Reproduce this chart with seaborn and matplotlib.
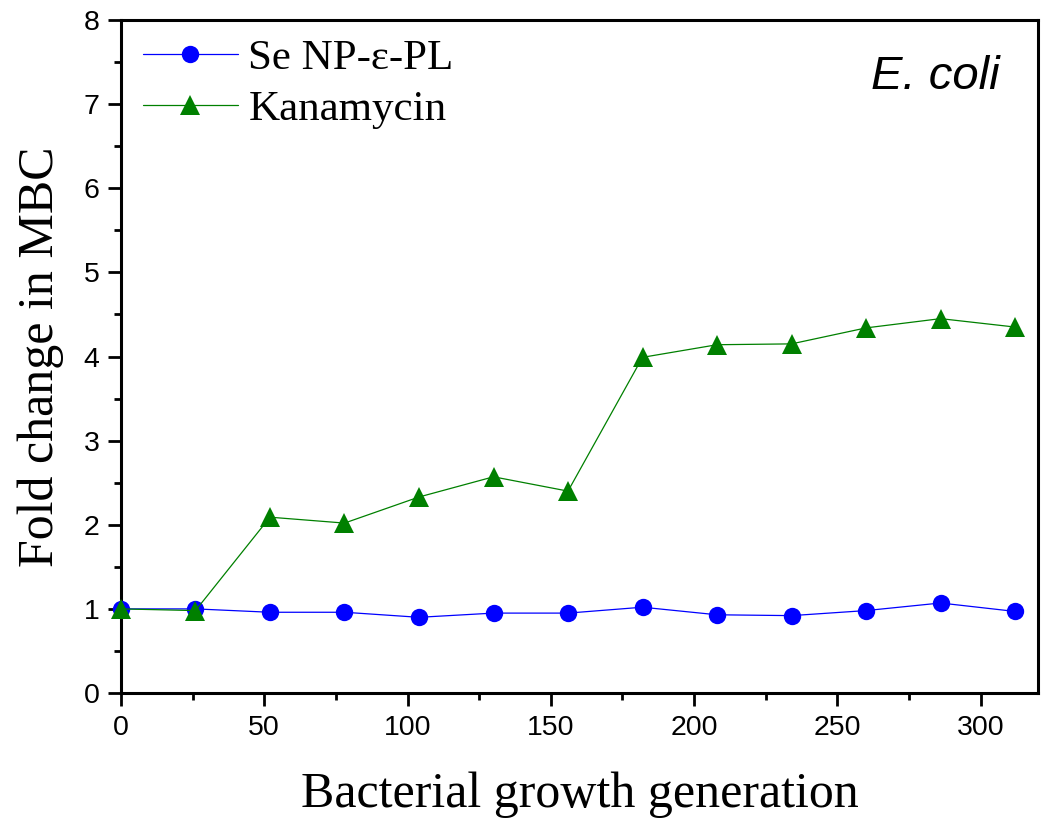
import matplotlib
matplotlib.use("Agg")
import matplotlib.pyplot as plt
from matplotlib.ticker import MultipleLocator
import seaborn as sns
import pandas as pd

# dados
generation = [0, 26, 52, 78, 104, 130, 156, 182, 208, 234, 260, 286, 312]
se_np_pl = [1.00, 1.00, 0.96, 0.96, 0.90, 0.95, 0.95, 1.02, 0.93, 0.92, 0.98, 1.07, 0.97]
kanamycin = [1.00, 0.98, 2.09, 2.02, 2.33, 2.57, 2.40, 3.99, 4.14, 4.15, 4.34, 4.45, 4.35]
series_names = ["Se NP-ε-PL", "Kanamycin"]

df = pd.DataFrame({
    "Generation": generation * 2,
    "Fold": se_np_pl + kanamycin,
    "Series": [series_names[0]] * len(generation) + [series_names[1]] * len(generation),
})

sns.set_style("ticks", {"axes.edgecolor": "black", "xtick.color": "black",
                        "ytick.color": "black", "text.color": "black",
                        "axes.labelcolor": "black"})
plt.rcParams["font.family"] = ["Liberation Sans", "DejaVu Sans"]

fig = plt.figure(figsize=(10.51, 8.22), dpi=100)
ax = fig.add_axes([0.1151, 0.1569, 0.8725, 0.8188])

sns.lineplot(data=df[df["Series"] == series_names[0]], x="Generation", y="Fold",
             color="#0000ff", marker="o", markersize=12.5, markeredgewidth=0,
             linewidth=0.9, label=series_names[0], ax=ax, clip_on=False, zorder=3)
sns.lineplot(data=df[df["Series"] == series_names[1]], x="Generation", y="Fold",
             color="#008000", marker="^", markersize=14.5, markeredgewidth=0,
             linewidth=0.9, label=series_names[1], ax=ax, clip_on=False, zorder=4)

ax.set_xlim(0, 320)
ax.set_ylim(0, 8)
ax.xaxis.set_major_locator(MultipleLocator(50))
ax.xaxis.set_minor_locator(MultipleLocator(25))
ax.yaxis.set_major_locator(MultipleLocator(1))
ax.yaxis.set_minor_locator(MultipleLocator(0.5))
ax.tick_params(which="major", direction="out", length=9.5, width=2, labelsize=20.5,
               pad=6, colors="black")
ax.tick_params(which="minor", direction="out", length=5, width=2, colors="black")
for s in ax.spines.values():
    s.set_linewidth(2.2)
    s.set_color("black")
    s.set_visible(True)

ax.set_xlabel("Bacterial growth generation", family="Liberation Serif", fontsize=36,
              labelpad=22, color="black")
ax.set_ylabel("Fold change in MBC", family="Liberation Serif", fontsize=36,
              labelpad=14, color="black")

ax.text(0.888, 0.915, "E. coli", transform=ax.transAxes, fontsize=34,
        style="italic", ha="center", va="center", color="black")

leg = ax.legend(loc="upper left", bbox_to_anchor=(0.024, 0.972), frameon=False,
                prop={"family": "Liberation Serif", "size": 31},
                borderpad=0, borderaxespad=0, handlelength=2.2,
                handletextpad=0.25, labelspacing=0.28)
for t in leg.get_texts():
    t.set_color("black")

fig.savefig("out.png", dpi=100)
